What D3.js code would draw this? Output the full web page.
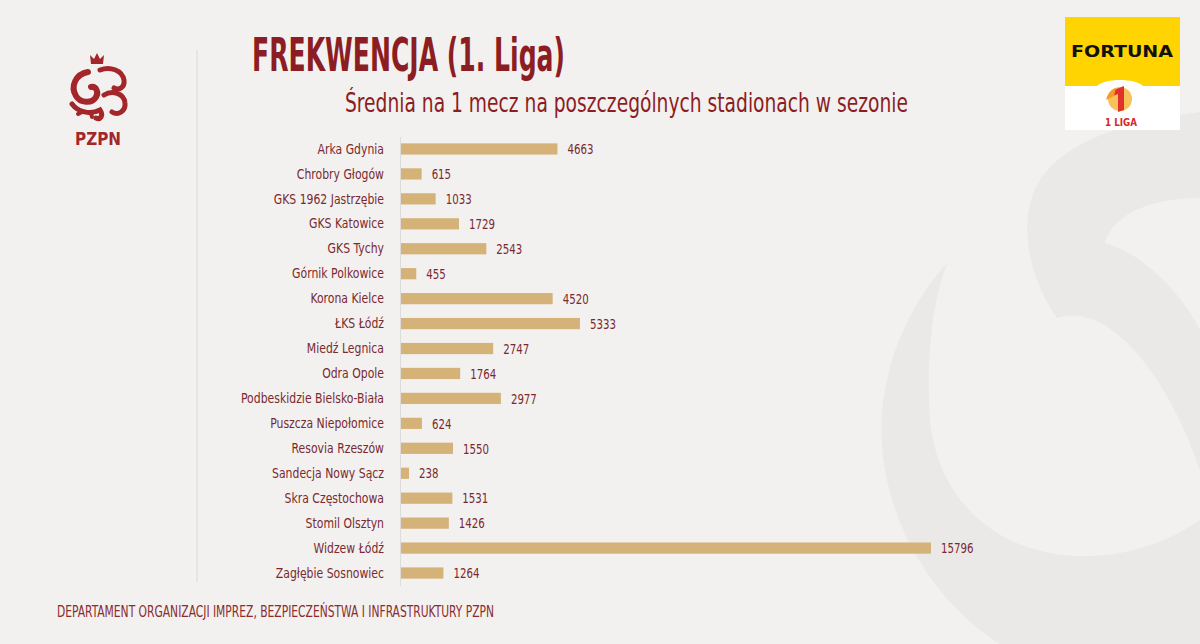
<!DOCTYPE html>
<html><head><meta charset="utf-8">
<script src="https://cdn.jsdelivr.net/npm/d3@7"></script>
<style>
html,body{margin:0;padding:0;background:#f2f1f0;}
svg{display:block;}
</style></head>
<body>
<svg id="chart" width="1200" height="644"></svg>
<script>
const categories = ["Arka Gdynia","Chrobry Głogów","GKS 1962 Jastrzębie","GKS Katowice","GKS Tychy","Górnik Polkowice","Korona Kielce","ŁKS Łódź","Miedź Legnica","Odra Opole","Podbeskidzie Bielsko-Biała","Puszcza Niepołomice","Resovia Rzeszów","Sandecja Nowy Sącz","Skra Częstochowa","Stomil Olsztyn","Widzew Łódź","Zagłębie Sosnowiec"];
const values = [4663,615,1033,1729,2543,455,4520,5333,2747,1764,2977,624,1550,238,1531,1426,15796,1264];
const titleText = "FREKWENCJA (1. Liga)";
const subtitleText = "Średnia na 1 mecz na poszczególnych stadionach w sezonie";
const footerText = "DEPARTAMENT ORGANIZACJI IMPREZ, BEZPIECZEŃSTWA I INFRASTRUKTURY PZPN";

const NARROW = "'Liberation Sans Narrow','DejaVu Sans Condensed','Roboto Condensed',Roboto,sans-serif";
const RED = "#8c1d22";
const TXT = "#7a2a2e";
const svg = d3.select("#chart");

svg.append("rect").attr("width",1200).attr("height",644).attr("fill","#f2f1f0");

// watermark
const wm = svg.append("g").attr("fill","#eae9e8");
wm.append("path").attr("d","M948,262 C895,320 872,400 885,470 C898,545 945,610 1000,644 L1200,644 L1200,520 C1150,555 1075,570 1010,540 C960,515 935,470 930,420 C926,360 932,300 948,262 Z");
wm.append("path").attr("d","M1057,318 C1030,280 1015,220 1040,180 C1070,135 1140,120 1200,112 L1200,198 C1150,198 1112,215 1105,243 C1140,252 1180,290 1200,330 L1200,470 C1170,380 1110,300 1057,318 Z");

// separator
svg.append("line").attr("x1",197).attr("x2",197).attr("y1",50).attr("y2",582).attr("stroke","#dcdad8").attr("stroke-width",1);

// PZPN emblem (approximate)
const em = svg.append("g").attr("fill","none").attr("stroke","#a3262a").attr("stroke-linecap","round");
svg.append("path").attr("fill","#a3262a").attr("d","M91,64 L90,55 L94,59 L97,53 L100,59 L104,55 L103,64 Z");
em.append("path").attr("stroke-width",6).attr("d","M88,72 C76,74 70,86 76,96 C80,103 92,104 96,97 C99,92 96,86 91,87");
em.append("path").attr("stroke-width",5).attr("d","M100,70 C110,66 122,70 124,80 C125,87 119,91 114,88");
em.append("path").attr("stroke-width",5).attr("d","M104,95 C112,90 124,93 125,103 C126,111 118,116 112,112");
em.append("path").attr("stroke-width",5).attr("d","M72,104 C78,112 90,115 100,110 C104,116 100,120 96,118");
em.append("path").attr("stroke-width",4).attr("d","M78,114 C84,110 92,112 92,117");
svg.append("text").attr("x",98).attr("y",145).attr("text-anchor","middle")
  .attr("font-family",NARROW).attr("font-weight","bold").attr("font-size",17).attr("fill","#a3262a")
  .attr("textLength",46).attr("lengthAdjust","spacingAndGlyphs").text("PZPN");

// Fortuna logo
const fg = svg.append("g");
fg.append("rect").attr("x",1065).attr("y",17).attr("width",115).attr("height",113).attr("fill","#ffffff");
fg.append("path").attr("fill","#ffd400").attr("d","M1065,17 L1180,17 L1180,86 L1143,86 C1135,78 1105,78 1097,86 L1065,86 Z");
fg.append("text").attr("x",1122).attr("y",57).attr("text-anchor","middle").attr("font-family","'DejaVu Sans',sans-serif")
  .attr("font-weight","bold").attr("font-size",16).attr("fill","#111").attr("textLength",102).attr("lengthAdjust","spacingAndGlyphs").text("FORTUNA");
fg.append("circle").attr("cx",1120).attr("cy",99).attr("r",12).attr("fill","#f6b73c").attr("opacity",0.85);
fg.append("path").attr("fill","#e0312a").attr("d","M1114,90 L1124,86 L1124,110 L1118,112 L1118,94 L1113,96 Z");
fg.append("path").attr("fill","#f39a2a").attr("d","M1106,100 C1108,92 1112,89 1116,88 L1114,96 Z");
fg.append("text").attr("x",1121).attr("y",126).attr("text-anchor","middle").attr("font-family","'DejaVu Sans',sans-serif")
  .attr("font-weight","bold").attr("font-size",10).attr("fill","#d8262c").attr("textLength",32).attr("lengthAdjust","spacingAndGlyphs").text("1 LIGA");

// Titles
svg.append("text").attr("x",252).attr("y",71).attr("font-family",NARROW).attr("font-weight","bold")
  .attr("font-size",46).attr("fill",RED).attr("textLength",313).attr("lengthAdjust","spacingAndGlyphs").text(titleText);
svg.append("text").attr("x",345).attr("y",112).attr("font-family",NARROW)
  .attr("font-size",27).attr("fill",RED).attr("textLength",563).attr("lengthAdjust","spacingAndGlyphs").text(subtitleText);
svg.append("text").attr("x",57).attr("y",617).attr("font-family",NARROW)
  .attr("font-size",16).attr("fill","#8a2c2e").attr("textLength",437).attr("lengthAdjust","spacingAndGlyphs").text(footerText);

// Chart
const x = d3.scaleLinear().domain([0, 15796]).range([401, 931]);
const y = d3.scaleBand().domain(categories).range([136.5, 585.5]).paddingInner(0.55).paddingOuter(0.275);

const yAxis = svg.append("g").attr("transform","translate(400,0)")
  .call(d3.axisLeft(y).tickSize(0).tickPadding(16));
yAxis.select(".domain").attr("stroke","#dedcda").attr("stroke-width",1);
yAxis.selectAll("text").attr("font-family",NARROW).attr("font-size",14.5).attr("fill",TXT);

svg.append("g").selectAll("rect").data(values).join("rect")
  .attr("x", x(0)).attr("y",(d,i)=>y(categories[i]))
  .attr("width", d=>x(d)-x(0)).attr("height", y.bandwidth()).attr("fill","#d5b378");

const vals = svg.append("g").selectAll("text").data(values).join("text")
  .attr("x", d=>x(d)+10).attr("y",(d,i)=>y(categories[i])+y.bandwidth()/2).attr("dy","0.36em")
  .attr("font-family",NARROW).attr("font-size",14.5).attr("fill",TXT).text(d=>d);

// condense labels to match reference widths
const longest = yAxis.selectAll("text").filter(d=>d==="Podbeskidzie Bielsko-Biała").node();
const factor = 143 / longest.getComputedTextLength();
yAxis.selectAll("text").each(function(){
  const w = this.getComputedTextLength();
  d3.select(this).attr("textLength", w*factor).attr("lengthAdjust","spacingAndGlyphs");
});
const vf = 26 / vals.filter(d=>d===4663).node().getComputedTextLength();
vals.each(function(){
  const w = this.getComputedTextLength();
  d3.select(this).attr("textLength", w*vf).attr("lengthAdjust","spacingAndGlyphs");
});
</script>
</body></html>
